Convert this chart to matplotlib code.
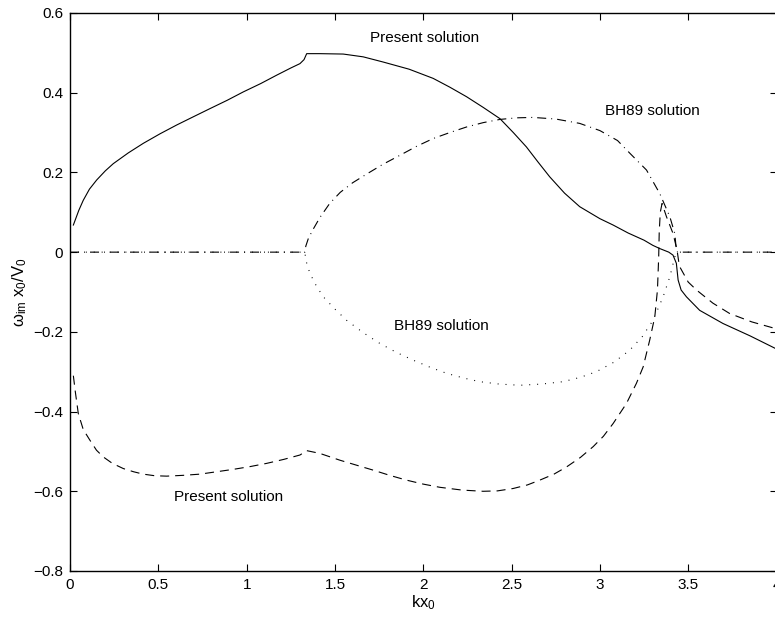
import matplotlib
matplotlib.use("Agg")
import matplotlib.pyplot as plt

plt.rcParams['font.family'] = ['Liberation Sans', 'DejaVu Sans']
plt.rcParams['mathtext.fontset'] = 'custom'
plt.rcParams['mathtext.rm'] = 'Liberation Sans'
plt.rcParams['mathtext.it'] = 'Liberation Sans'
plt.rcParams['mathtext.default'] = 'regular'
plt.rcParams['lines.scale_dashes'] = False

# present solution, growing branch
pres_up_k = [0.019, 0.05, 0.075, 0.11, 0.151, 0.2, 0.245, 0.33, 0.415, 0.51, 0.604, 0.70,
             0.792, 0.89, 0.981, 1.08, 1.17, 1.25, 1.302, 1.325, 1.34, 1.415, 1.547, 1.66,
             1.773, 1.92, 2.056, 2.15, 2.245, 2.34, 2.434, 2.51, 2.584, 2.65, 2.716, 2.80,
             2.886, 3.0, 3.075, 3.16, 3.25, 3.30, 3.339, 3.39, 3.414, 3.433, 3.443, 3.46,
             3.49, 3.565, 3.697, 3.85, 4.0]
pres_up_w = [0.068, 0.105, 0.130, 0.158, 0.181, 0.204, 0.222, 0.249, 0.273, 0.297, 0.319, 0.340,
             0.360, 0.381, 0.402, 0.423, 0.444, 0.462, 0.473, 0.483, 0.498, 0.498, 0.497, 0.490,
             0.477, 0.459, 0.436, 0.414, 0.390, 0.363, 0.335, 0.300, 0.264, 0.226, 0.189, 0.148,
             0.114, 0.084, 0.068, 0.048, 0.030, 0.017, 0.009, 0.0, -0.0075, -0.028, -0.070, -0.095,
             -0.112, -0.146, -0.179, -0.210, -0.243]

# present solution, damped branch
pres_lo_k = [0.019, 0.03, 0.047, 0.075, 0.113, 0.15, 0.189, 0.24, 0.302, 0.36, 0.415, 0.48,
             0.547, 0.64, 0.736, 0.83, 0.924, 1.02, 1.113, 1.21, 1.302, 1.34, 1.415, 1.528,
             1.641, 1.717, 1.81, 1.905, 2.0, 2.094, 2.22, 2.339, 2.42, 2.509, 2.59, 2.66,
             2.74, 2.811, 2.89, 2.962, 3.02, 3.075, 3.15, 3.207, 3.245, 3.282, 3.311, 3.326,
             3.333, 3.336, 3.342, 3.352, 3.377, 3.414, 3.437, 3.45, 3.50, 3.547, 3.64, 3.735,
             3.86, 3.98, 4.0]
pres_lo_w = [-0.31, -0.35, -0.405, -0.445, -0.472, -0.497, -0.514, -0.530, -0.543, -0.551, -0.557, -0.561,
             -0.562, -0.560, -0.557, -0.551, -0.545, -0.538, -0.530, -0.520, -0.509, -0.498, -0.505, -0.522,
             -0.537, -0.547, -0.560, -0.572, -0.582, -0.590, -0.597, -0.600, -0.599, -0.593, -0.584, -0.572,
             -0.557, -0.539, -0.515, -0.488, -0.462, -0.430, -0.380, -0.329, -0.288, -0.221, -0.162, -0.095,
             -0.012, 0.05, 0.10, 0.122, 0.089, 0.047, 0.005, -0.035, -0.075, -0.095, -0.128, -0.154,
             -0.175, -0.190, -0.193]

# BH89 solution, upper root
bh_up_k = [0.0, 1.33, 1.335, 1.35, 1.38, 1.415, 1.47, 1.53, 1.60, 1.68, 1.77, 1.868, 1.96,
           2.056, 2.15, 2.245, 2.34, 2.434, 2.53, 2.622, 2.75, 2.886, 3.0, 3.1, 3.17, 3.264,
           3.339, 3.396, 3.424, 3.433, 3.44, 4.0]
bh_up_w = [0.0, 0.0, 0.015, 0.035, 0.06, 0.087, 0.122, 0.150, 0.174, 0.196, 0.220, 0.243, 0.265,
           0.285, 0.300, 0.314, 0.325, 0.333, 0.337, 0.338, 0.334, 0.323, 0.305, 0.280, 0.248, 0.206,
           0.147, 0.089, 0.047, 0.005, 0.0, 0.0]

# BH89 solution, lower root
bh_lo_k = [0.0, 1.33, 1.335, 1.358, 1.395, 1.434, 1.50, 1.566, 1.66, 1.754, 1.85, 1.943, 2.04,
           2.132, 2.23, 2.32, 2.43, 2.547, 2.67, 2.792, 2.89, 2.98, 3.08, 3.169, 3.24, 3.301,
           3.358, 3.396, 3.424, 3.435, 3.44, 4.0]
bh_lo_w = [0.0, 0.0, -0.02, -0.053, -0.085, -0.112, -0.143, -0.171, -0.202, -0.229, -0.252, -0.271, -0.289,
           -0.304, -0.316, -0.325, -0.331, -0.334, -0.331, -0.325, -0.314, -0.300, -0.276, -0.246, -0.212, -0.171,
           -0.112, -0.062, -0.012, -0.003, 0.0, 0.0]

xticks = [0, 0.5, 1, 1.5, 2, 2.5, 3, 3.5, 4]
xticklabels = ['0', '0.5', '1', '1.5', '2', '2.5', '3', '3.5', '4']
yticks = [-0.8, -0.6, -0.4, -0.2, 0, 0.2, 0.4, 0.6]
yticklabels = ['\u22120.8', '\u22120.6', '\u22120.4', '\u22120.2', '0', '0.2', '0.4', '0.6']

fig = plt.figure(figsize=(7.75, 6.2), dpi=100)
ax = fig.add_axes([70 / 775, 49 / 620, 706.5 / 775, 558 / 620])

lw = 0.8
ax.plot(bh_lo_k, bh_lo_w, color='k', lw=lw, linestyle=(0, (0.7, 5.0)))
ax.plot(bh_up_k, bh_up_w, color='k', lw=lw, linestyle=(0, (6.5, 3.6, 0.7, 3.6)))
ax.plot(pres_lo_k, pres_lo_w, color='k', lw=lw, linestyle=(0, (6.5, 4.3)))
ax.plot(pres_up_k, pres_up_w, color='k', lw=lw, linestyle='-')

ax.text(2.01, 0.537, 'Present solution', fontsize=11, ha='center', va='center')
ax.text(3.3, 0.355, 'BH89 solution', fontsize=11, ha='center', va='center')
ax.text(2.105, -0.186, 'BH89 solution', fontsize=11, ha='center', va='center')
ax.text(0.90, -0.615, 'Present solution', fontsize=11, ha='center', va='center')

ax.set_xlim(0, 4)
ax.set_ylim(-0.8, 0.6)
ax.set_xticks(xticks)
ax.set_xticklabels(xticklabels)
ax.set_yticks(yticks)
ax.set_yticklabels(yticklabels)
ax.tick_params(direction='in', top=True, right=True, length=5, width=0.8,
               labelsize=11, pad=5)
for s in ax.spines.values():
    s.set_linewidth(1.0)

ax.set_xlabel(r'$kx_0$', fontsize=12, labelpad=1)
ax.set_ylabel(r'$\omega_{im}\ x_0/V_0$', fontsize=12, labelpad=3)

fig.savefig('out.png', dpi=100)
